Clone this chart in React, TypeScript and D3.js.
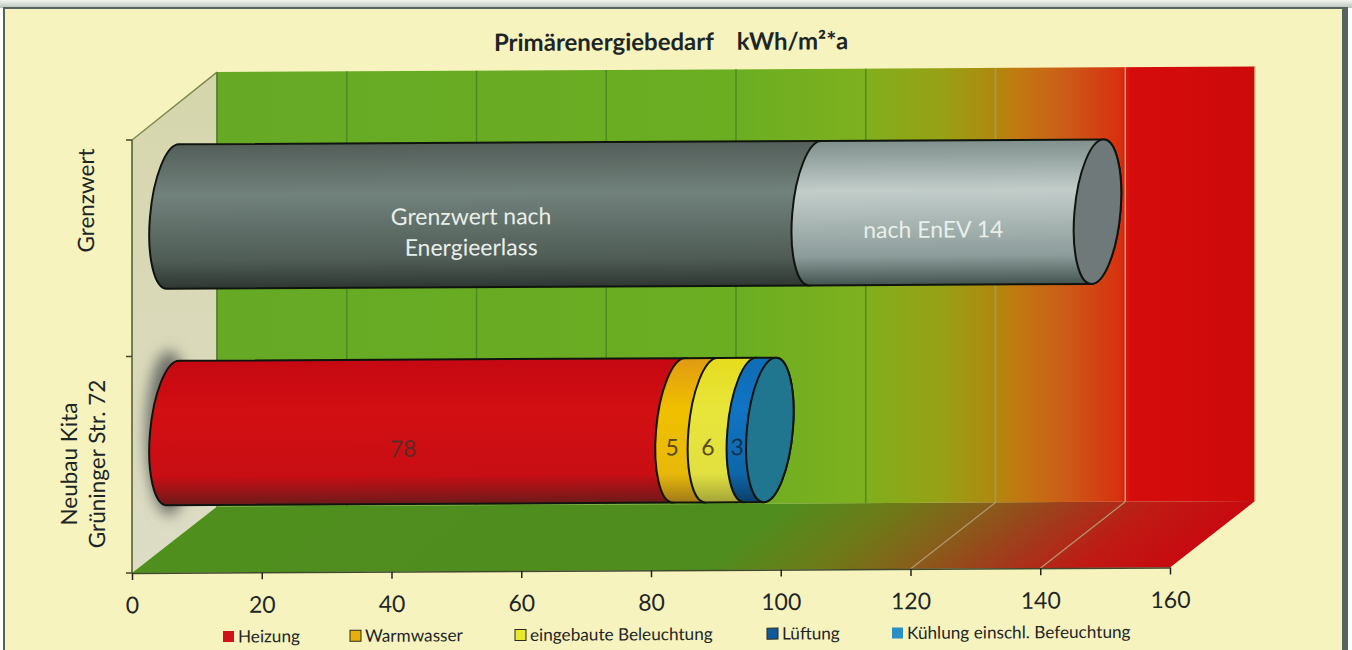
// Primaerenergiebedarf chart, 3D stacked cylinder bars
import React, { useEffect, useRef } from 'react';
import * as d3 from 'd3';

const categories = ['Neubau Kita', 'Grenzwert'];
const categoryLines = [['Neubau Kita', 'Grüninger Str. 72'], ['Grenzwert']];

const seriesNames = ['Heizung', 'Warmwasser', 'eingebaute Beleuchtung', 'Lüftung', 'Kühlung einschl. Befeuchtung'];
const kitaValues = [78, 5, 6, 3, 0];
const grenzwertValues = [99, 43.5];
const grenzwertLabels = [['Grenzwert nach', 'Energieerlass'], ['nach EnEV 14']];

const xDomain = [0, 160];

const seriesGradients = [
  ['#c50812', '#d20f12', '#c80e14', '#6e1a1a'],
  ['#e09a12', '#f0c000', '#e8b80a', '#a07a18'],
  ['#e6dc1e', '#e8e53a', '#e2e040', '#a3a538'],
  ['#0f6cb4', '#1074c4', '#0f66a8', '#0b3f68'],
];
const grayGradients = [
  ['#535e59', '#71817b', '#505d57', '#2f3733'],
  ['#7f8f8c', '#c2cdca', '#8c9c9a', '#435450'],
];
const legendColors = ['#d0121c', '#e8ae0c', '#e8e82e', '#0f5a9a', '#2a90c4'];
const wallStops: [number, string][] = [
  [0, '#66a925'], [0.5, '#6bae22'], [0.62, '#7eb01e'], [0.7, '#98a014'],
  [0.75, '#b0880f'], [0.77, '#c07a10'], [0.82, '#cc5a18'], [0.87, '#d8300f'],
  [0.88, '#d60c0c'], [1, '#cd0a0a'],
];
const floorStops: [number, string][] = [
  [0, '#4f8f1e'], [0.55, '#4f8d1e'], [0.66, '#6e7a18'], [0.74, '#86601a'],
  [0.83, '#a23a1c'], [0.91, '#bf1a14'], [1, '#c80a10'],
];

const FONT = 'Lato, sans-serif';
const TEXT = '#1d2626';

const App: React.FC = () => {
  const ref = useRef<SVGSVGElement>(null);

  useEffect(() => {
    if (!ref.current) return;
    const svg = d3.select(ref.current);
    svg.selectAll('*').remove();

    const width = 1352;
    const height = 650;
    const baseY = 573;
    const topY = 140;
    const depthX = 85;
    const depthY = 66;
    const rx = 23;

    const xFront = d3.scaleLinear().domain(xDomain).range([132, 1170]);
    const xBack = (v: number) => xFront(v) + depthX;
    const xMid = (v: number) => xFront(v) + depthX / 2 - 1.5;
    const yBand = d3.scaleBand().domain(categories).range([baseY, topY]);
    const ry = (yBand.bandwidth() * 0.667) / 2;
    const bandCenter = (c: string) => (yBand(c) ?? 0) + yBand.bandwidth() / 2 - depthY / 2 + 1.5;

    const defs = svg.append('defs');
    const addGradient = (id: string, colors: string[]) => {
      const g = defs.append('linearGradient').attr('id', id).attr('x1', 0).attr('y1', 0).attr('x2', 0).attr('y2', 1);
      [0, 0.35, 0.8, 1].forEach((o, i) => g.append('stop').attr('offset', o).attr('stop-color', colors[i]));
    };
    seriesGradients.forEach((c, i) => addGradient(`series${i}`, c));
    grayGradients.forEach((c, i) => addGradient(`gray${i}`, c));

    const wallGrad = defs.append('linearGradient').attr('id', 'wall').attr('x1', 0).attr('x2', 1).attr('y1', 0).attr('y2', 0);
    wallStops.forEach(([o, c]) => wallGrad.append('stop').attr('offset', o).attr('stop-color', c));

    // floor colours run along the depth direction, so the vector is perpendicular to it
    const floorGrad = defs.append('linearGradient').attr('id', 'floor').attr('gradientUnits', 'userSpaceOnUse')
      .attr('x1', 132).attr('y1', baseY).attr('x2', 132 + 405).attr('y2', baseY + 507);
    floorStops.forEach(([o, c]) => floorGrad.append('stop').attr('offset', o).attr('stop-color', c));

    const sideGrad = defs.append('linearGradient').attr('id', 'side').attr('x1', 0).attr('x2', 0).attr('y1', 0).attr('y2', 1);
    sideGrad.append('stop').attr('offset', 0).attr('stop-color', '#d6d6ac');
    sideGrad.append('stop').attr('offset', 1).attr('stop-color', '#dddcc6');

    const frameGrad = defs.append('linearGradient').attr('id', 'frame').attr('x1', 0).attr('x2', 0).attr('y1', 0).attr('y2', 1);
    frameGrad.append('stop').attr('offset', 0).attr('stop-color', '#f4f6f0');
    frameGrad.append('stop').attr('offset', 1).attr('stop-color', '#b9c2bc');

    defs.append('filter').attr('id', 'blur').attr('x', '-100%').attr('y', '-50%').attr('width', '300%').attr('height', '200%')
      .append('feGaussianBlur').attr('stdDeviation', 7);

    // paper and frame, the scan has no lower edge
    svg.append('rect').attr('width', width).attr('height', height).attr('fill', '#ffffff');
    svg.append('rect').attr('x', 0).attr('y', 0).attr('width', width).attr('height', 8).attr('fill', 'url(#frame)');
    svg.append('rect').attr('x', 3).attr('y', 7).attr('width', 1345).attr('height', 643).attr('fill', '#56645f');
    svg.append('rect').attr('x', 5).attr('y', 9).attr('width', 1337).attr('height', 641).attr('fill', '#f7f3bf');

    // the scan is slightly tilted
    const g = svg.append('g').attr('transform', `translate(132,${baseY}) skewY(-0.3) translate(-132,${-baseY})`);

    // walls and floor
    const wallTop = 72.5;
    const wallBottom = baseY - depthY;
    g.append('polygon')
      .attr('points', `${xFront(0)},${topY} ${xBack(0)},${wallTop} ${xBack(0)},${wallBottom} ${xFront(0)},${baseY}`)
      .attr('fill', 'url(#side)');
    g.append('rect').attr('x', xBack(0)).attr('y', wallTop)
      .attr('width', xBack(160) - xBack(0)).attr('height', wallBottom - wallTop).attr('fill', 'url(#wall)');
    g.append('polygon')
      .attr('points', `${xFront(0)},${baseY} ${xBack(0)},${wallBottom} ${xBack(160)},${wallBottom} ${xFront(160)},${baseY}`)
      .attr('fill', 'url(#floor)');

    // grid lines on wall and floor
    xFront.ticks(8).forEach((v) => {
      const wallColor = v <= 100 ? '#4d8a22' : v === 120 ? '#a39a5c' : v === 140 ? '#b9a27e' : '#c9c58c';
      g.append('line').attr('x1', xBack(v)).attr('x2', xBack(v)).attr('y1', wallTop).attr('y2', wallBottom)
        .attr('stroke', wallColor).attr('stroke-width', 1.5);
      if (v >= 120 && v < 160) {
        g.append('line').attr('x1', xFront(v)).attr('y1', baseY).attr('x2', xBack(v)).attr('y2', wallBottom)
          .attr('stroke', '#b39a72').attr('stroke-width', 1.2);
      }
    });
    g.append('line').attr('x1', xFront(0)).attr('y1', topY).attr('x2', xBack(0)).attr('y2', wallTop)
      .attr('stroke', '#7d8a4c').attr('stroke-width', 1.5);
    g.append('line').attr('x1', xBack(0)).attr('y1', wallTop).attr('x2', xBack(0)).attr('y2', wallBottom)
      .attr('stroke', '#5d7a38').attr('stroke-width', 1.2);

    // soft shadow left of the lower cylinder
    g.append('ellipse').attr('cx', xMid(0) - 4).attr('cy', bandCenter('Neubau Kita'))
      .attr('rx', rx).attr('ry', ry + 10).attr('fill', '#6d7068').attr('filter', 'url(#blur)');

    // one cylinder section, left half of its start ellipse stays visible
    const section = (x0: number, x1: number) =>
      `M${x0},${-ry}L${x1},${-ry}A${rx},${ry} 0 0 1 ${x1},${ry}L${x0},${ry}A${rx},${ry} 0 0 1 ${x0},${-ry}Z`;

    const drawCylinder = (category: string, values: number[], fills: string[], capFill: string) => {
      const cyl = g.append('g').attr('transform', `translate(0,${bandCenter(category)}) skewX(-4.76)`);
      let sum = 0;
      values.forEach((v, i) => {
        if (v <= 0) return;
        cyl.append('path').attr('d', section(xMid(sum), xMid(sum + v)))
          .attr('fill', fills[i]).attr('stroke', '#10140f').attr('stroke-width', 2);
        sum += v;
      });
      cyl.append('ellipse').attr('cx', xMid(sum)).attr('cy', 0).attr('rx', rx).attr('ry', ry)
        .attr('fill', capFill).attr('stroke', '#10140f').attr('stroke-width', 2);
    };

    drawCylinder('Grenzwert', grenzwertValues, ['url(#gray0)', 'url(#gray1)'], '#70797a');
    drawCylinder('Neubau Kita', kitaValues, seriesGradients.map((_, i) => `url(#series${i})`), '#20768f');

    // value labels
    const labelShift = 17;
    let kitaSum = 0;
    kitaValues.forEach((v, i) => {
      if (v > 0) {
        g.append('text').attr('x', xMid(kitaSum + v / 2) - rx).attr('y', bandCenter('Neubau Kita') + labelShift)
          .attr('dy', '0.35em').attr('text-anchor', 'middle')
          .attr('font-family', FONT).attr('font-size', 23)
          .attr('fill', i === 0 ? '#5e2a24' : i === 3 ? '#12324c' : '#5a4a20')
          .text(v);
      }
      kitaSum += v;
    });
    let grayStart = 0;
    grenzwertValues.forEach((v, i) => {
      const lines = grenzwertLabels[i];
      lines.forEach((line, j) => {
        g.append('text').attr('x', xMid(grayStart + v / 2) - rx)
          .attr('y', bandCenter('Grenzwert') + labelShift + (j - (lines.length - 1) / 2) * 31)
          .attr('dy', '0.35em').attr('text-anchor', 'middle')
          .attr('font-family', FONT).attr('font-size', 23).attr('fill', '#e9efe9')
          .text(line);
      });
      grayStart += v;
    });

    // axes
    const xAxis = d3.axisBottom(xFront).ticks(8).tickSize(7).tickPadding(17).tickSizeOuter(0);
    const xG = g.append('g').attr('transform', `translate(0,${baseY})`).call(xAxis as any);
    xG.select('.domain').attr('stroke', '#3f4a2a').attr('stroke-width', 1.5);
    xG.selectAll('line').attr('stroke', '#20261e').attr('stroke-width', 1.5);
    xG.selectAll('text').attr('font-family', FONT).attr('font-size', 23).attr('fill', TEXT);

    g.append('line').attr('x1', xFront(0)).attr('x2', xFront(0)).attr('y1', topY).attr('y2', baseY)
      .attr('stroke', '#4a5a2c').attr('stroke-width', 1.5);
    [topY, topY + yBand.bandwidth(), baseY].forEach((y) => {
      g.append('line').attr('x1', xFront(0) - 6).attr('x2', xFront(0)).attr('y1', y).attr('y2', y)
        .attr('stroke', '#3c4628').attr('stroke-width', 1.5);
    });

    // category labels
    const categoryLabelShift = [-1, -48];
    const lineX = [[77, 105], [94]];
    categories.forEach((c, i) => {
      categoryLines[i].forEach((line, j) => {
        const y = (yBand(c) ?? 0) + yBand.bandwidth() / 2 + categoryLabelShift[i];
        g.append('text').attr('transform', `translate(${lineX[i][j]},${y}) rotate(-90)`)
          .attr('text-anchor', 'middle').attr('font-family', FONT).attr('font-size', 22.5).attr('fill', TEXT)
          .text(line);
      });
    });

    // title
    g.append('text').attr('x', 671).attr('y', 53).attr('text-anchor', 'middle')
      .style('white-space', 'pre')
      .attr('font-family', FONT).attr('font-weight', 700).attr('font-size', 24).attr('fill', TEXT)
      .text('Primärenergiebedarf    kWh/m²*a');

    // legend
    const legendX = [223, 350, 515, 767, 892];
    const legendY = 637;
    seriesNames.forEach((name, i) => {
      g.append('rect').attr('x', legendX[i]).attr('y', legendY - 5.5).attr('width', 11).attr('height', 11)
        .attr('fill', legendColors[i]).attr('stroke', i === 0 || i === 4 ? 'none' : '#2a2a20').attr('stroke-width', 1);
      g.append('text').attr('x', legendX[i] + 15).attr('y', legendY).attr('dy', '0.35em')
        .attr('font-family', FONT).attr('font-size', 17.2).attr('fill', TEXT)
        .text(name);
    });
  }, []);

  return <svg ref={ref} width={1352} height={650} style={{ position: 'fixed', left: 0, top: 0 }} />;
};

export default App;
